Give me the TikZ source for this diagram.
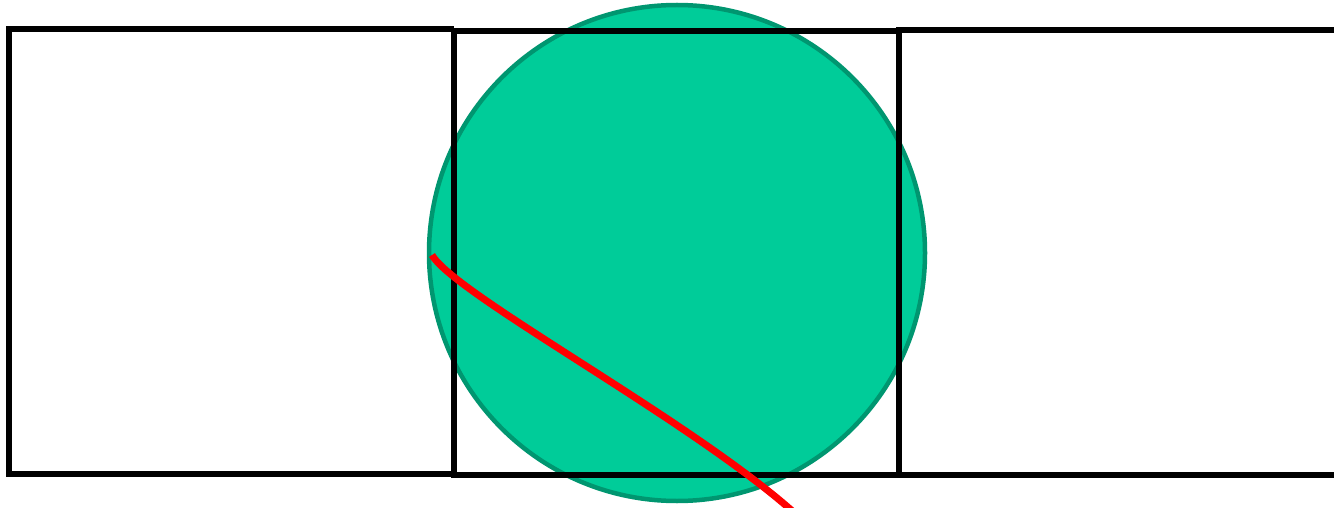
\documentclass[tikz,border=0pt]{standalone}
\definecolor{circfill}{HTML}{00CC99}
\definecolor{circline}{HTML}{009670}
\begin{document}
\begin{tikzpicture}[x=1pt,y=-1pt,
  sq/.style={draw=black,line width=5.5pt,line join=miter},
  disc/.style={circle,fill=circfill,draw=circline,line width=4.5pt,minimum size=496pt,inner sep=0pt},
  redline/.style={draw=red,line width=7pt}]
\useasboundingbox (0,0) rectangle (1334,508);
\clip (0,0) rectangle (1334,508);
\node[disc] (c) at (677,253) {};
\draw[sq] (454,29) -- (9,29) -- (9,474) -- (454,474);
\draw[sq] (454,31) rectangle (899,475);
\draw[sq] (1345,30) -- (899,30) -- (899,475) -- (1345,475);
\coordinate (r0) at (432,255);
\coordinate (r1) at (800,518);
\draw[redline] (r0) .. controls (455,295) and (700,425) .. (r1);
\end{tikzpicture}
\end{document}
